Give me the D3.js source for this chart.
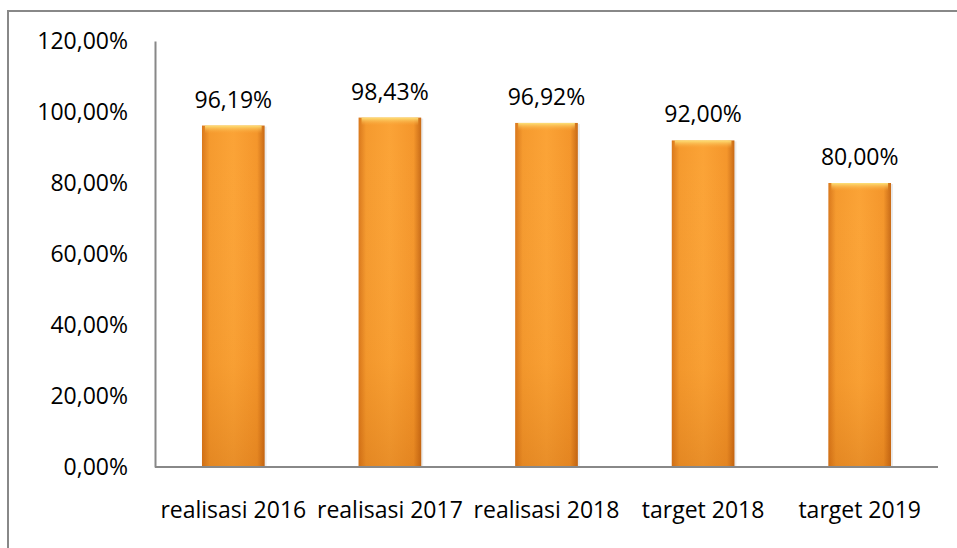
<!DOCTYPE html>
<html>
<head>
<meta charset="utf-8">
<script src="https://cdn.jsdelivr.net/npm/d3@7"></script>
<style>
  body { margin: 0; background: #fff; }
  svg text { font-family: "Open Sans", sans-serif; font-weight: 400; fill: #000; }
</style>
</head>
<body>
<script>
const categories = ["realisasi 2016", "realisasi 2017", "realisasi 2018", "target 2018", "target 2019"]
const values = [96.19, 98.43, 96.92, 92.00, 80.00]
const yTicks = [0, 20, 40, 60, 80, 100, 120]

const width = 957, height = 548
const margin = { left: 155, right: 19, top: 41, bottom: 81 }
const fontSize = 23

const svg = d3.select("body").append("svg")
  .attr("width", width)
  .attr("height", height)

// outer frame (runs off right and bottom)
svg.append("rect")
  .attr("x", 8).attr("y", 11)
  .attr("width", 960).attr("height", 560)
  .attr("fill", "none")
  .attr("stroke", "#888")
  .attr("stroke-width", 2)

const defs = svg.append("defs")
const grad = defs.append("linearGradient").attr("id", "barGrad")
  .attr("x1", "0").attr("x2", "1").attr("y1", "0").attr("y2", "0")
grad.append("stop").attr("offset", "0%").attr("stop-color", "#d9781c")
grad.append("stop").attr("offset", "12%").attr("stop-color", "#f59a2e")
grad.append("stop").attr("offset", "50%").attr("stop-color", "#fba336")
grad.append("stop").attr("offset", "88%").attr("stop-color", "#f4962b")
grad.append("stop").attr("offset", "100%").attr("stop-color", "#c86a16")

const vgrad = defs.append("linearGradient").attr("id", "barShade")
  .attr("x1", "0").attr("x2", "0").attr("y1", "0").attr("y2", "1")
vgrad.append("stop").attr("offset", "0%").attr("stop-color", "#fff").attr("stop-opacity", 0)
vgrad.append("stop").attr("offset", "70%").attr("stop-color", "#c05a00").attr("stop-opacity", 0.05)
vgrad.append("stop").attr("offset", "100%").attr("stop-color", "#b04f00").attr("stop-opacity", 0.25)

const topGrad = defs.append("linearGradient").attr("id", "topGrad")
  .attr("x1", "0").attr("x2", "0").attr("y1", "0").attr("y2", "1")
topGrad.append("stop").attr("offset", "0%").attr("stop-color", "#fde27a")
topGrad.append("stop").attr("offset", "100%").attr("stop-color", "#f9a53a").attr("stop-opacity", 0)

const x = d3.scaleBand()
  .domain(categories)
  .range([margin.left, width - margin.right])
  .paddingInner(0.6)
  .paddingOuter(0.3)

const y = d3.scaleLinear()
  .domain([0, 120])
  .range([height - margin.bottom, margin.top])

const pct = d => d3.format(".2f")(d).replace(".", ",") + "%"

// y axis
const yAxis = svg.append("g")
  .attr("transform", `translate(${margin.left},0)`)
  .call(d3.axisLeft(y).tickValues(yTicks).tickSize(0).tickPadding(27).tickFormat(pct))
yAxis.select(".domain").attr("stroke", "#888").attr("stroke-width", 2)
yAxis.selectAll("text")
  .attr("font-size", fontSize)
  .attr("font-family", "'Open Sans', sans-serif")
  .attr("fill", "#000")

const bars = svg.append("g").selectAll("g")
  .data(values)
  .join("g")

// faint shadow
bars.append("rect")
  .attr("x", (d, i) => x(categories[i]) + 2)
  .attr("y", d => y(d) + 1)
  .attr("width", x.bandwidth())
  .attr("height", d => y(0) - y(d) - 1)
  .attr("fill", "#000").attr("opacity", 0.08)

bars.append("rect")
  .attr("x", (d, i) => x(categories[i]))
  .attr("y", d => y(d))
  .attr("width", x.bandwidth())
  .attr("height", d => y(0) - y(d))
  .attr("fill", "url(#barGrad)")

bars.append("rect")
  .attr("x", (d, i) => x(categories[i]))
  .attr("y", d => y(d))
  .attr("width", x.bandwidth())
  .attr("height", d => y(0) - y(d))
  .attr("fill", "url(#barShade)")

bars.append("rect")
  .attr("x", (d, i) => x(categories[i]) + 3)
  .attr("y", d => y(d))
  .attr("width", x.bandwidth() - 6)
  .attr("height", 8)
  .attr("fill", "url(#topGrad)")

// value labels
svg.append("g").selectAll("text")
  .data(values)
  .join("text")
  .attr("x", (d, i) => x(categories[i]) + x.bandwidth() / 2)
  .attr("y", d => y(d) - 18)
  .attr("text-anchor", "middle")
  .attr("font-size", fontSize)
  .text(pct)

// x axis line
svg.append("line")
  .attr("x1", margin.left).attr("x2", width - margin.right)
  .attr("y1", y(0)).attr("y2", y(0))
  .attr("stroke", "#888").attr("stroke-width", 2)

// category labels
svg.append("g").selectAll("text")
  .data(categories)
  .join("text")
  .attr("x", d => x(d) + x.bandwidth() / 2)
  .attr("y", y(0) + 51)
  .attr("text-anchor", "middle")
  .attr("font-size", fontSize)
  .text(d => d)
</script>
</body>
</html>
